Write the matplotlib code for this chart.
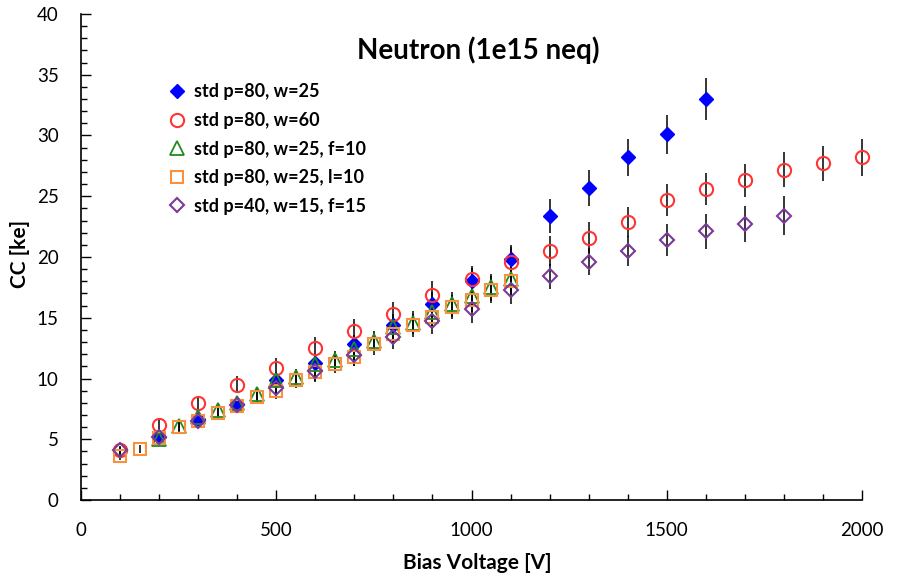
import numpy as np
import matplotlib
matplotlib.use("Agg")
import matplotlib.pyplot as plt
from matplotlib.ticker import MultipleLocator

plt.rcParams['font.family'] = ['Lato', 'DejaVu Sans']

# --- data ---
# std p=80, w=25
v_a = [200, 300, 400, 500, 600, 700, 800, 900, 1000, 1100, 1200, 1300, 1400, 1500, 1600]
cc_a = [5.2, 6.7, 7.9, 9.9, 11.3, 12.8, 14.4, 16.1, 18.0, 19.8, 23.4, 25.7, 28.2, 30.1, 33.0]
err_a = [0.4, 0.5, 0.5, 0.6, 0.7, 0.8, 0.9, 1.0, 1.1, 1.2, 1.4, 1.5, 1.55, 1.6, 1.7]

# std p=80, w=60
v_b = [100, 200, 300, 400, 500, 600, 700, 800, 900, 1000,
       1100, 1200, 1300, 1400, 1500, 1600, 1700, 1800, 1900, 2000]
cc_b = [4.1, 6.2, 8.0, 9.5, 10.9, 12.5, 13.9, 15.3, 16.9, 18.2,
        19.6, 20.5, 21.6, 22.9, 24.7, 25.6, 26.3, 27.2, 27.7, 28.2]
err_b = [0.3, 0.5, 0.6, 0.7, 0.8, 0.9, 1.0, 1.0, 1.1, 1.1,
         1.2, 1.2, 1.25, 1.25, 1.3, 1.3, 1.35, 1.4, 1.45, 1.5]

# std p=80, w=25, f=10
v_c = [200, 250, 300, 350, 400, 450, 500, 550, 600, 650,
       700, 750, 800, 850, 900, 950, 1000, 1050, 1100]
cc_c = [5.0, 6.1, 6.8, 7.4, 8.0, 8.7, 9.9, 10.1, 11.2, 11.5,
        12.4, 13.1, 14.2, 14.6, 15.5, 16.1, 16.8, 17.5, 18.2]
err_c = [0.4, 0.45, 0.5, 0.5, 0.55, 0.6, 0.65, 0.7, 0.75, 0.75,
         0.8, 0.85, 0.9, 0.95, 1.0, 1.0, 1.05, 1.1, 1.15]

# std p=80, w=25, l=10
v_d = [100, 150, 200, 250, 300, 350, 400, 450, 500, 550, 600,
       650, 700, 750, 800, 850, 900, 950, 1000, 1050, 1100]
cc_d = [3.6, 4.2, 5.1, 6.0, 6.5, 7.2, 7.7, 8.5, 9.0, 9.9, 10.5,
        11.2, 11.8, 12.8, 13.7, 14.4, 15.1, 15.9, 16.5, 17.3, 18.0]
err_d = [0.3, 0.35, 0.4, 0.45, 0.5, 0.5, 0.55, 0.6, 0.65, 0.7, 0.7,
         0.75, 0.8, 0.85, 0.9, 0.95, 1.0, 1.0, 1.05, 1.1, 1.15]

# std p=40, w=15, f=15
v_e = [100, 200, 300, 400, 500, 600, 700, 800, 900,
       1000, 1100, 1200, 1300, 1400, 1500, 1600, 1700, 1800]
cc_e = [4.1, 5.2, 6.5, 7.8, 9.2, 10.6, 11.9, 13.4, 14.7,
        15.7, 17.3, 18.4, 19.6, 20.5, 21.4, 22.1, 22.7, 23.4]
err_e = [0.35, 0.45, 0.55, 0.65, 0.75, 0.85, 0.9, 1.0, 1.05,
         1.1, 1.15, 1.0, 1.1, 1.2, 1.3, 1.45, 1.5, 1.6]

labels = ['std p=80, w=25', 'std p=80, w=60', 'std p=80, w=25, f=10',
          'std p=80, w=25, l=10', 'std p=40, w=15, f=15']

series = [
    (v_a, cc_a, err_a, dict(marker='D', ms=7.2, mfc='#0000FF', mec='#0000FF', mew=1.0)),
    (v_b, cc_b, err_b, dict(marker='o', ms=9.5, mfc='none', mec='#FF3535', mew=1.5)),
    (v_c, cc_c, err_c, dict(marker='^', ms=9.5, mfc='none', mec='#1E8C1E', mew=1.3)),
    (v_d, cc_d, err_d, dict(marker='s', ms=8.5, mfc='none', mec='#F7903F', mew=1.5)),
    (v_e, cc_e, err_e, dict(marker='D', ms=6.8, mfc='none', mec='#7A3A96', mew=1.5)),
]

fig = plt.figure(figsize=(9.02, 5.80), dpi=100)
ax = fig.add_axes([0.0898, 0.1379, 0.8659, 0.838])

for (v, cc, err, style), lab in zip(series, labels):
    eb = ax.errorbar(v, cc, yerr=err, fmt='none', ecolor='black', elinewidth=1.1,
                     capsize=0, zorder=2)
    for c in eb[2]:
        c.set_clip_on(False)
    ax.plot(v, cc, ls='none', label=lab, zorder=3, clip_on=False, **style)

ax.set_xlim(0, 2000)
ax.set_ylim(0, 40)
ax.xaxis.set_major_locator(MultipleLocator(500))
ax.xaxis.set_minor_locator(MultipleLocator(100))
ax.yaxis.set_major_locator(MultipleLocator(5))
ax.yaxis.set_minor_locator(MultipleLocator(1))
ax.tick_params(which='both', direction='in', width=1.0, color='black')
ax.tick_params(which='major', length=7)
ax.tick_params(which='minor', length=4.5)
ax.tick_params(axis='x', which='major', pad=16, labelsize=13.5)
ax.tick_params(axis='y', which='major', pad=16, labelsize=13.5)

for s in ['top', 'right']:
    ax.spines[s].set_visible(False)
for s in ['left', 'bottom']:
    ax.spines[s].set_linewidth(1.2)

ax.set_xlabel('Bias Voltage [V]', fontsize=15, fontweight='bold', va='center')
ax.xaxis.set_label_coords(0.508, -0.130)
ax.set_ylabel('CC [ke]', fontsize=15, fontweight='bold', va='center')
ax.yaxis.set_label_coords(-0.078, 0.506)

ax.text(0.508, 0.926, 'Neutron (1e15 neq)', transform=ax.transAxes,
        ha='center', va='center', fontsize=20, fontweight='bold')

ax.legend(loc='upper left', bbox_to_anchor=(0.112, 0.857), frameon=False,
          prop={'size': 13, 'weight': 'bold'}, handlelength=0.9,
          handletextpad=0.5, labelspacing=0.64, borderpad=0, borderaxespad=0,
          numpoints=1)

fig.savefig('out.png', dpi=100)
